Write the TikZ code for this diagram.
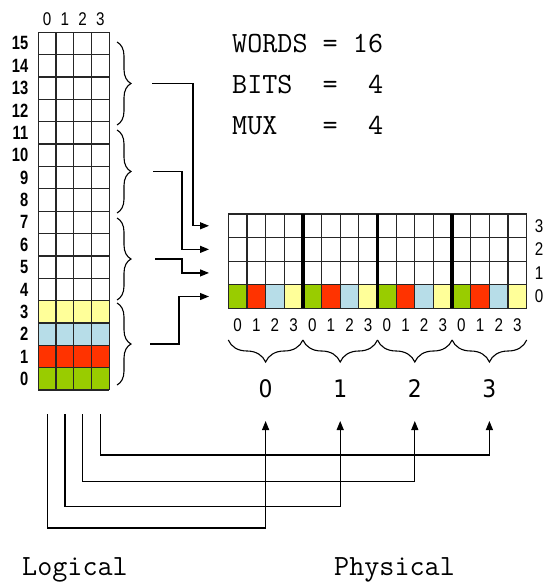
\documentclass[tikz,border=0pt]{standalone}
\usepackage{fontspec}
\newfontfamily\labfont{Liberation Sans}
\newfontfamily\digfont{DejaVu Sans}
\usetikzlibrary{arrows.meta,decorations.pathreplacing,calc}
\definecolor{cgreen}{RGB}{153,204,0}
\definecolor{cred}{RGB}{255,51,0}
\definecolor{cblue}{RGB}{183,221,232}
\definecolor{cyellow}{RGB}{255,255,153}
\begin{document}
\begin{tikzpicture}[x=1pt,y=-1pt,
  gridline/.style={draw=black!85, line width=1.2pt},
  sepline/.style={draw=black, line width=3.5pt},
  conn/.style={draw=black, line width=1.2pt},
  tip/.style={-{Triangle[length=9pt,width=7pt]}},
  bracev/.style={decorate, decoration={brace, amplitude=14pt}, line width=1.1pt},
  braceh/.style={decorate, decoration={brace, amplitude=22pt, mirror}, line width=1.1pt},
  rowlab/.style={anchor=east, inner sep=0pt, font=\labfont\bfseries\fontsize{16}{16}\selectfont},
  collab/.style={inner sep=0pt, font=\labfont\fontsize{16}{16}\selectfont},
  bigtext/.style={anchor=base west, inner sep=0pt, font=\ttfamily\fontsize{29.3}{29.3}\selectfont},
  grpdig/.style={anchor=base, inner sep=0pt, font=\digfont\fontsize{23}{23}\selectfont}]
\useasboundingbox (0,0) rectangle (545,585);

% ---------- logical array: 16 words x 4 bits ----------
\def\lx{38.3}\def\lw{17.75}\def\ly{32.3}\def\lh{22.36}
\foreach \r/\c in {0/cgreen,1/cred,2/cblue,3/cyellow}
  \fill[\c] (\lx,{\ly+(15-\r)*\lh}) rectangle ({\lx+4*\lw},{\ly+(16-\r)*\lh});
\foreach \i in {0,...,4}
  \draw[gridline] ({\lx+\i*\lw},\ly) -- ({\lx+\i*\lw},{\ly+16*\lh});
\foreach \j in {0,...,16}
  \draw[gridline] (\lx,{\ly+\j*\lh}) -- ({\lx+4*\lw},{\ly+\j*\lh});
\foreach \r in {0,...,15}
  \node[rowlab] (lr\r) at (28.5,{\ly+(15.5-\r)*\lh}) {\scalebox{0.92}[1.2]{\r}};
\foreach \i in {0,...,3}
  \node[collab] (lc\i) at ({\lx+(\i+0.5)*\lw},19.5) {\scalebox{0.95}[1.15]{\i}};

% braces grouping four words each
\foreach \k/\a/\b in {1/42/125,2/130/213,3/218/300,4/303/385}
  \draw[bracev] (117,\a) -- (117,\b) coordinate[pos=0.5] (bm\k);

% ---------- parameters ----------
\node[bigtext] (words) at (232,53) {WORDS\ =\ 16};
\node[bigtext] (bits) at (232,94) {BITS\ \ =\ \ 4};
\node[bigtext] (mux) at (232,135) {MUX\ \ \ =\ \ 4};

% ---------- physical array: 4 rows x 16 columns ----------
\def\px{228.3}\def\pw{18.65}\def\py{214}\def\ph{23.575}
\foreach \i/\c in {0/cgreen,1/cred,2/cblue,3/cyellow,4/cgreen,5/cred,6/cblue,7/cyellow,
                   8/cgreen,9/cred,10/cblue,11/cyellow,12/cgreen,13/cred,14/cblue,15/cyellow}
  \fill[\c] ({\px+\i*\pw},{\py+3*\ph}) rectangle ({\px+(\i+1)*\pw},{\py+4*\ph});
\foreach \i in {0,...,16}
  \draw[gridline] ({\px+\i*\pw},\py) -- ({\px+\i*\pw},{\py+4*\ph});
\foreach \j in {0,...,4}
  \draw[gridline] (\px,{\py+\j*\ph}) -- ({\px+16*\pw},{\py+\j*\ph});
\foreach \k in {1,2,3}
  \draw[sepline] ({\px+4*\k*\pw},\py) -- ({\px+4*\k*\pw},{\py+4*\ph});
\foreach \r in {0,...,3} {
  \node[collab] (pr\r) at (539,{\py+(3.5-\r)*\ph}) {\scalebox{0.95}[1.15]{\r}};
  \coordinate (in\r) at (209,{\py+(3.5-\r)*\ph});
}
\foreach \g in {0,...,3}
  \foreach \i in {0,...,3}
    \node[collab] (pc\g\i) at ({\px+(4*\g+\i+0.5)*\pw},325) {\scalebox{0.95}[1.15]{\i}};

% column groups selected by the mux
\foreach \g in {0,...,3} {
  \draw[braceh] ({\px+4*\g*\pw},340) -- ({\px+4*(\g+1)*\pw},340);
  \node[grpdig] (grp\g) at ({\px+(4*\g+2)*\pw},397) {\scalebox{0.95}[1.05]{\g}};
  \coordinate (out\g) at ({\px+(4*\g+2)*\pw},421);
}

% ---------- word groups to physical rows ----------
\coordinate (s1) at (152,83.5);
\coordinate (s2) at (153,171.5);
\coordinate (s3) at (155,259);
\coordinate (s4) at (150,344);
\draw[conn,tip] (s1) -- (193,83.5) |- (in3);
\draw[conn,tip] (s2) -- (182,171.5) |- (in2);
\draw[conn,tip] (s3) -- (182,259) |- (in1);
\draw[conn,tip] (s4) -- (179,344) |- (in0);

% ---------- bit columns to column groups ----------
\foreach \i in {0,...,3}
  \coordinate (bit\i) at ({\lx+(\i+0.5)*\lw},414);
\draw[conn,tip] (bit0) -- ++(0,114) -| (out0);
\draw[conn,tip] (bit1) -- ++(0,92.4) -| (out1);
\draw[conn,tip] (bit2) -- ++(0,67.7) -| (out2);
\draw[conn,tip] (bit3) -- ++(0,41) -| (out3);

% ---------- captions ----------
\node[bigtext] (logical) at (22,575) {Logical};
\node[bigtext] (physical) at (334,575) {Physical};
\end{tikzpicture}
\end{document}
